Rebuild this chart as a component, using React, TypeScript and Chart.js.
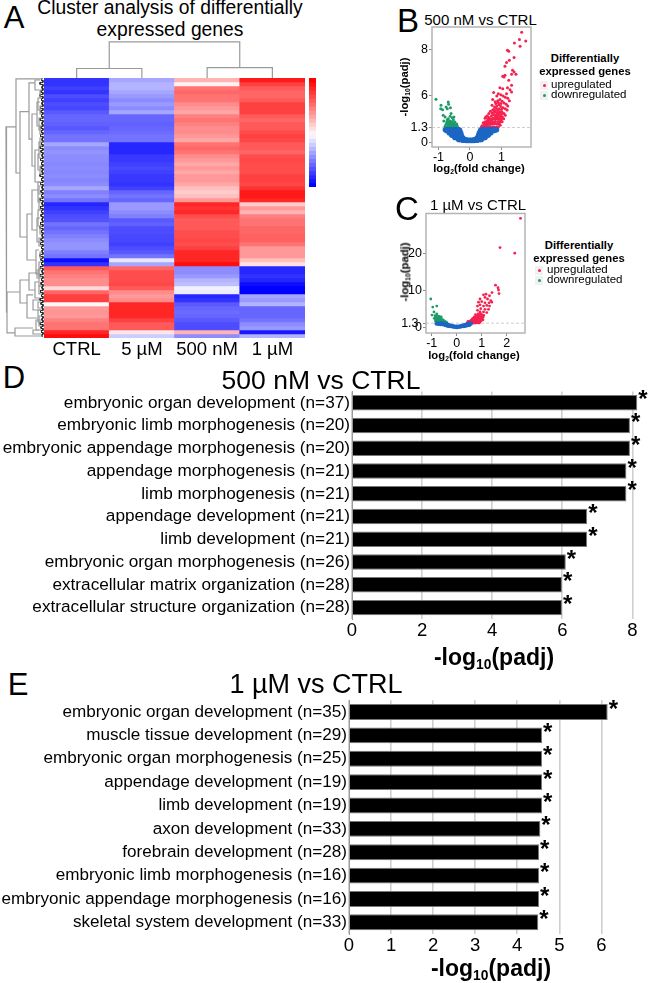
import React, { useEffect, useRef } from "react";
import { Chart, registerables } from "chart.js";

Chart.register(...registerables);
const FONT = '"Liberation Sans", Arial, sans-serif';
Chart.defaults.font.family = FONT;
Chart.defaults.color = "#000";

/* ---------- Panel A: heat map ---------- */
const heatColumns = ["CTRL", "5 µM", "500 nM", "1 µM"];
const heatCtrl = [-.8,-.8,-.75,-.8,-.7,-.75,-.7,-.72,-.65,-.6,-.6,-.62,-.66,-.6,-.55,-.55,-.35,-.45,-.42,-.45,-.45,-.47,-.45,-.47,-.45,-.48,-.45,-.35,-.5,-.45,-.55,-.85,-.8,-.75,-.7,-.68,-.55,-.6,-.55,-.5,-.45,-.42,-.42,-.5,-.55,-.95,-.8,.65,.55,.5,.45,.45,.15,.6,.75,.75,.03,.4,.42,.4,.5,.55,.55,.85,.95];
const heat5uM = [-.35,-.3,-.3,-.35,-.4,-.45,-.4,-.45,-.35,-.6,-.6,-.62,-.6,-.58,-.55,-.55,-.85,-.85,-.85,-.78,-.78,-.75,-.72,-.75,-.78,-.78,-.8,-.75,-.6,-.55,-.6,-.4,-.4,-.45,-.5,-.65,-.62,-.7,-.7,-.72,-.72,-.75,-.7,-.65,-.55,-.1,-.35,.6,.7,.7,.7,.72,.65,.45,.4,.45,.85,.85,.85,.85,.75,.65,.65,.1,-.2];
const heat500nM = [.3,.05,.55,.6,.55,.55,.45,.4,.35,.5,.55,.5,.45,.45,.4,.35,.55,.6,.55,.45,.4,.35,.4,.35,.4,.4,.35,.25,.2,.25,.4,.85,.8,.85,.7,.65,.65,.65,.7,.7,.72,.7,.75,.85,.85,.85,.95,-.45,-.45,-.4,-.3,-.25,-.05,-.08,-.85,-.8,-.65,-.6,-.58,-.6,-.65,-.7,-.7,.3,-.45];
const heat1uM = [.9,.75,.65,.6,.6,.65,.75,.75,.75,.65,.6,.65,.65,.7,.75,.72,.65,.65,.6,.7,.72,.7,.7,.7,.75,.75,.72,.8,.9,.9,.85,.2,.4,.3,.5,.55,.55,.6,.6,.62,.62,.55,.4,.4,.4,.25,.12,-.85,-.85,-.8,-.85,-.95,-1,-1,-.35,-.4,-.3,-.6,-.6,-.6,-.55,-.45,-.4,-.9,-.3];
const colorbarLevels = [1,.93,.86,.79,.72,.65,.58,.5,.43,.36,.28,.2,.12,.05,-.05,-.12,-.2,-.28,-.36,-.44,-.52,-.6,-.68,-.76,-.84,-.92,-1];
const leafHeights = [1.5,3,1,2,3,1.5,1,2.5,2,1.5,3,1,2,1.5,2.5,1,1.5,3,2,1,2.5,1.5,2,1,3,1.5,2.5,1,2,1.5,3,1,2.5,1.5,2,1,2.5,3,1.5,1,2,2.5,1.5,1,3,2,1.5,2.5,1,3,1.5,2,1,2.5,1.5,3,2,1,2.5,1.5,1,3,2,1.5,1];
// merge: height, first row, second row, height of first child, height of second child
const rowMerges = [
  [37,12.2,58.7,27,36],[36,53.5,63.7,23,28],[27,.2,23.75,0,23],[23,8.4,39.75,14,16],[14,1.2,15.3,8,11],
  [8,.5,3,3,4],[11,9,22,6,8],[6,6,12,3,2],[8,18,26,4,3],[4,16,20,0,2],[16,34,45.5,11,7],[11,28,38,5,6],
  [7,43,49,4,3],[5,26,31,2,2],[6,35,41,3,2],[4,46,52,2,1],[23,50.5,56.25,14,16],[14,48.75,53,5,8],
  [16,54.2,60,10,6],[8,51,55,4,3],[28,62.5,64.5,10,0],[10,63,64,4,2],[6,48,50,2,1],[10,55.5,58,4,3],
  [5,58,61,2,2],[3,3,5,1,1],[3,12,14,1,1],[3,22,24,1,1],[3,37,39,1,1],
  [5,5,8,2,2],[4,10,13,1,2],[5,19,23,2,1],[4,27,29,1,1],[4,30,33,1,2],[5,33,37,1,2],[4,40,42,1,1],
  [4,47.5,49.5,1,1],[4,52,54,1,1],[5,56,57.5,2,1],[4,59.5,62,1,1],[7,60.5,63,2,2],[3,7,9,1,1],[3,15,17,1,1],[3,43.5,45,1,1],
];
// merge: height, first column, second column, height of first child, height of second child
const columnMerges = [[10,0,1,0,0],[11,2,3,0,0],[38,.5,2.5,10,11]];

/* ---------- Panels B, C: volcano plots ---------- */
const bUp = [[1.64,9.46],[1.41,8.54],[1.57,8.83],[1.77,8.71],[1.59,8.26],[1.19,7.91],[1.23,7.83],[1.4,7.29],[1.25,7.06],[1.16,6.86],[1.11,6.54],[1.35,6.2],[1.4,6.06],[1.46,5.86],[1.32,5.86],[1.11,5.77],[1.04,5.69],[1.08,5.63],[1.23,5.34],[.95,4.71],[1.04,4.63],[1.19,4.71],[1.32,4.91],[1.27,4.54],[1.32,4.34],[1.16,4.2],[.75,4.29],[.85,4],[.9,4.2],[.98,4.1],[1.05,4],[1.12,3.9],[1.2,3.8],[1.25,3.6],[.72,3.7],[.8,3.5],[.88,3.6],[.95,3.7],[1.02,3.55],[1.08,3.4],[1.15,3.3],[1.2,3.15],[.7,3.2],[.78,3.05],[.85,3.15],[.92,3.25],[.98,3.1],[1.05,3],[1.12,2.9],[1.18,2.8],[.5,2.2],[.48,2.1],[.55,2.3],[.6,2.5],[.65,2.7],[.72,2.8],[.8,2.7],[.88,2.75],[.95,2.65],[1.02,2.6],[1.08,2.5],[1.12,2.35],[.6,2.15],[.68,2.3],[.75,2.4],[.82,2.35],[.9,2.4],[.97,2.3],[1.03,2.2],[1.07,2.05],[.42,1.7],[.48,1.8],[.55,1.85],[.62,1.9],[.7,1.95],[.78,2],[.85,2.05],[.92,2],[.98,1.9],[1.02,1.8],[.38,1.45],[.44,1.45],[.5,1.5],[.56,1.55],[.62,1.55],[.68,1.6],[.74,1.6],[.8,1.65],[.86,1.6],[.92,1.6],[.96,1.5],[.36,1.33],[.42,1.33],[.48,1.35],[.54,1.35],[.6,1.35],[.66,1.35],[.72,1.35],[.78,1.35],[.84,1.35],[.9,1.35],[.46,1.58],[.52,1.68],[.58,1.72],[.65,1.75],[.72,1.78],[.8,1.82],[.88,1.82],[.95,1.75],[.57,2.02],[.64,2.05],[.72,2.12],[.8,2.18],[.87,2.2],[.94,2.17],[1,2.05],[.7,2.55],[.77,2.6],[.85,2.55],[.92,2.52],[1,2.45],[.76,2.85],[.84,2.92],[.92,2.9],[1,2.85],[.82,3.35],[.9,3.45],[.98,3.35]];
const bDown = [[-1.08,3.71],[-.92,3.2],[-.87,2.83],[-.93,2.91],[-.76,3.06],[-.69,3.49],[-.68,3.29],[-.62,3],[-.72,2.91],[-.6,2.49],[-.85,2.34],[-.79,2.2],[-.63,2.26],[-.56,2.14],[-.69,2.06],[-.53,1.97],[-.83,1.86],[-.74,1.77],[-.63,1.86],[-.48,1.77],[-.76,1.57],[-.66,1.63],[-.57,1.57],[-.44,1.49],[-.69,1.43],[-.53,1.4],[-.4,1.4],[-.58,1.77],[-.79,1.4],[-.72,1.97],[-.51,2.2],[-.6,1.35],[-.5,1.5],[-.65,1.4],[-.7,1.6],[-.75,1.33],[-.46,1.33],[-.55,1.33],[-.62,1.7],[-.68,1.8],[-.5,1.7],[-.42,1.6],[-.7,1.33],[-.65,1.55],[-.6,1.5],[-.55,1.5],[-.47,1.42]];
const bFlat = [[-.78,1.1],[-.72,1.1],[-.66,1.1],[-.6,1.1],[-.54,1.1],[-.48,1.1],[-.42,1.1],[-.36,1.1],[-.74,1.05],[-.68,1.05],[-.62,1.05],[-.56,1.05],[-.5,1.05],[-.44,1.05],[-.38,1.05],[-.33,1.05],[-.66,.85],[-.6,.85],[-.54,.85],[-.48,.85],[-.42,.85],[-.36,.85],[-.3,.85],[-.58,.65],[-.52,.65],[-.46,.65],[-.4,.65],[-.34,.65],[-.28,.65],[-.48,.45],[-.42,.45],[-.36,.45],[-.3,.45],[-.24,.45],[-.36,.28],[-.3,.28],[-.24,.28],[-.18,.28],[-.24,.22],[-.18,.22],[-.12,.22],[-.12,.2],[-.06,.2],[0,.2],[.06,.2],[.12,.2],[.38,1.1],[.44,1.1],[.5,1.1],[.56,1.1],[.62,1.1],[.68,1.1],[.74,1.1],[.8,1.1],[.84,1.1],[.34,1.05],[.4,1.05],[.46,1.05],[.52,1.05],[.58,1.05],[.64,1.05],[.7,1.05],[.76,1.05],[.3,.85],[.36,.85],[.42,.85],[.48,.85],[.54,.85],[.6,.85],[.66,.85],[.28,.65],[.34,.65],[.4,.65],[.46,.65],[.52,.65],[.58,.65],[.24,.45],[.3,.45],[.36,.45],[.42,.45],[.48,.45],[.18,.28],[.24,.28],[.3,.28],[.36,.28],[.12,.22],[.18,.22],[.24,.22]];
const bTicksX = [-1, 0, 1];
const bTicksY = [0, 1.3, 4, 8];
const bTickLabelsY = ["0", "1.3", "6", "8"];

const cUp = [[2.55,29.6],[1.73,21.7],[2.32,20.2],[1.55,11.57],[1.65,10.87],[1.67,10.26],[1.69,9.3],[1.41,9.57],[1.07,8.96],[1.17,9.13],[1.31,8.7],[.93,7.83],[1.13,8.26],[1.23,7.83],[1.36,7.39],[.87,6.96],[1,7.13],[1.13,6.78],[1.29,6.78],[1.4,6.96],[.93,6.26],[.83,5.91],[1.07,5.91],[1.2,6.09],[1.31,5.91],[1.13,5.04],[.96,5.22],[1.27,5.04],[.83,4.78],[1.07,4.35],[.93,4.35],[1.2,4.17],[.95,3.9],[.85,3.8],[.75,3.6],[.9,3.4],[1,3.6],[1.08,3.4],[.8,3.2],[.7,3],[.88,3],[.98,3.1],[1.05,2.9],[.65,2.6],[.75,2.7],[.82,2.6],[.92,2.6],[1,2.5],[.6,2.2],[.7,2.3],[.78,2.2],[.86,2.2],[.95,2.1],[.55,1.9],[.63,1.9],[.72,1.85],[.8,1.8],[.9,1.75],[.48,1.6],[.56,1.6],[.65,1.55],[.74,1.5],[.82,1.5],[.42,1.4],[.5,1.35],[.58,1.35],[.66,1.35],[.74,1.35],[.85,2.9],[.45,1.75],[.52,1.8],[.6,1.75],[.68,1.7],[.76,1.7],[.85,1.65],[.92,1.5],[.58,2.05],[.66,2.1],[.74,2.05],[.82,2],[.9,2],[.98,1.95],[1.05,2.2],[.7,2.7],[.78,2.9],[.9,2.85],[.96,2.35],[1.02,2.75],[.68,2.5],[.62,2.4],[.8,1.4],[.88,1.35],[.52,1.55],[.6,1.45],[.7,1.42]];
const cDown = [[-1.04,7.83],[-.8,5.91],[-.96,5.65],[-.91,4.35],[-.99,3.48],[-.87,3.3],[-.8,3.83],[-.85,2.9],[-.8,2.6],[-.75,2.9],[-.7,2.5],[-.65,2.7],[-.6,2.3],[-.55,2.2],[-.5,1.9],[-.45,1.7],[-.4,1.5],[-.85,2.2],[-.8,2],[-.75,2],[-.7,1.8],[-.65,1.9],[-.6,1.7],[-.55,1.6],[-.5,1.45],[-.78,1.6],[-.72,1.45],[-.66,1.4],[-.6,1.35],[-.54,1.33],[-.48,1.33],[-.42,1.33],[-.9,2.6],[-.78,3.3],[-.7,3.1],[-.62,3],[-.82,2.35],[-.74,2.25],[-.68,2.15],[-.62,2],[-.57,1.9],[-.52,1.65],[-.46,1.5],[-.76,1.75],[-.7,1.6],[-.64,1.55],[-.58,1.5],[-.85,1.9]];
const cFlat = [[-.8,1.2],[-.72,1.15],[-.64,1.1],[-.56,1.05],[-.48,1],[-.4,.9],[-.32,.75],[-.24,.6],[-.16,.45],[-.08,.35],[0,.3],[.08,.35],[.16,.45],[.24,.6],[.32,.75],[.4,.9],[.48,1.05],[.56,1.2],[-.6,1.2],[-.5,1.1],[-.44,.8],[-.36,.65],[-.28,.55],[.28,.55],[.36,.7],[.44,.85],[.5,.9]];
const cTicksX = [-1, 0, 1, 2];
const cTicksY = [0, 1.3, 10, 20];
const cTickLabelsY = ["0", "1.3 ", "10", "20"];

/* ---------- Panels D, E: enrichment bars ---------- */
const dTerms = ["embryonic organ development (n=37)","embryonic limb morphogenesis (n=20)","embryonic appendage morphogenesis (n=20)","appendage morphogenesis (n=21)","limb morphogenesis (n=21)","appendage development (n=21)","limb development (n=21)","embryonic organ morphogenesis (n=26)","extracellular matrix organization (n=28)","extracellular structure organization (n=28)"];
const dValues = [8.14,7.93,7.93,7.83,7.83,6.71,6.71,6.1,5.99,5.99];
const eTerms = ["embryonic organ development (n=35)","muscle tissue development (n=29)","embryonic organ morphogenesis (n=25)","appendage development (n=19)","limb development (n=19)","axon development (n=33)","forebrain development (n=28)","embryonic limb morphogenesis (n=16)","embryonic appendage morphogenesis (n=16)","skeletal system development (n=33)"];
const eValues = [6.15,4.59,4.59,4.59,4.59,4.55,4.52,4.52,4.52,4.5];

/* ---------- helpers ---------- */
const heatColor = (v: number) => {
  const k = Math.round(255 * (1 - Math.abs(v)));
  return v >= 0 ? `rgb(255,${k},${k})` : `rgb(${k},${k},255)`;
};
const hiddenScale = (extra: any = {}) => ({ display: false, ...extra });
const mergePath = (m: number[], flip: boolean) => {
  const [h, a, b, ha, hb] = m;
  const p = [[ha, a], [h, a], [h, b], [hb, b]];
  return p.map(([hh, pos]) => (flip ? { x: pos, y: hh } : { x: hh, y: pos }));
};

function ChartBox({ left, top, width, height, config }: any) {
  const ref = useRef<HTMLCanvasElement>(null);
  useEffect(() => {
    const chart = new Chart(ref.current as HTMLCanvasElement, config());
    return () => chart.destroy();
  }, []);
  return <canvas ref={ref} width={width} height={height} style={{ position: "absolute", left, top, width, height }} />;
}

const baseOptions = {
  responsive: false,
  animation: false as const,
  events: [] as any[],
  plugins: { legend: { display: false }, tooltip: { enabled: false } },
};

const heatConfig = () => ({
  type: "bar",
  data: {
    labels: heatColumns,
    datasets: heatCtrl.map((_, i) => ({
      data: heatColumns.map(() => 1),
      backgroundColor: [heatCtrl[i], heat5uM[i], heat500nM[i], heat1uM[i]].map(heatColor),
      borderWidth: 0,
      barPercentage: 1,
      categoryPercentage: 1,
    })),
  },
  options: {
    ...baseOptions,
    scales: {
      x: {
        stacked: true,
        grid: { display: false, drawTicks: false },
        border: { display: false },
        ticks: { font: { size: 18.5 }, padding: 1, maxRotation: 0 },
        afterFit: (s: any) => { s.height = 27; },
      },
      y: hiddenScale({ stacked: true, reverse: true, min: 0, max: heatCtrl.length }),
    },
  },
});

const colorbarConfig = () => ({
  type: "bar",
  data: {
    labels: ["scale"],
    datasets: colorbarLevels.map((v) => ({
      data: [1],
      backgroundColor: heatColor(v),
      borderWidth: 0,
      barPercentage: 1,
      categoryPercentage: 1,
    })),
  },
  options: {
    ...baseOptions,
    scales: {
      x: hiddenScale({ stacked: true }),
      y: hiddenScale({ stacked: true, reverse: true, min: 0, max: colorbarLevels.length }),
    },
  },
});

const treeDataset = (data: any[], color = "#9a9a9a", width = 1.2) => ({
  data, showLine: true, pointRadius: 0, borderColor: color, borderWidth: width, clip: false, tension: 0,
});

const rowTreeConfig = () => {
  const comb: any[] = [];
  leafHeights.forEach((h, i) => {
    comb.push({ x: 0, y: i + 0.1 }, { x: h, y: i + 0.1 }, { x: h, y: i + 0.6 }, { x: 0, y: i + 0.6 });
  });
  return {
    type: "scatter",
    data: { datasets: [...rowMerges.map((m) => treeDataset(mergePath(m, false))), treeDataset(comb, "#222", 1)] },
    options: {
      ...baseOptions,
      scales: {
        x: hiddenScale({ reverse: true, min: -1, max: 43 }),
        y: hiddenScale({ reverse: true, min: 0, max: heatCtrl.length }),
      },
    },
  };
};

const columnTreeConfig = () => ({
  type: "scatter",
  data: { datasets: columnMerges.map((m) => treeDataset(mergePath(m, true))) },
  options: {
    ...baseOptions,
    scales: { x: hiddenScale({ min: -0.5, max: 3.5 }), y: hiddenScale({ min: 0, max: 40 }) },
  },
});

const framePlugin = {
  id: "frame",
  afterDraw(chart: any) {
    const { ctx, chartArea: a } = chart;
    ctx.save();
    ctx.strokeStyle = "#b4b4b4";
    ctx.lineWidth = 1.5;
    ctx.strokeRect(a.left, a.top, a.right - a.left, a.bottom - a.top);
    ctx.restore();
  },
};

const toPts = (arr: number[][]) => arr.map(([x, y]) => ({ x, y }));
const tickGrid = { drawOnChartArea: false, drawTicks: true, tickLength: 3, color: "#8a8a8a" };

const volcanoConfig = (p: any) => () => ({
  type: "scatter",
  data: {
    datasets: [
      { label: "not significant", data: toPts(p.flat), backgroundColor: "#1c66c4", pointRadius: p.flatR, pointBorderWidth: 0 },
      { label: "downregulated", data: toPts(p.down), backgroundColor: "#1e9c68", pointRadius: p.r, pointBorderWidth: 0 },
      { label: "upregulated", data: toPts(p.up), backgroundColor: "#f5214f", pointRadius: p.r, pointBorderWidth: 0 },
      { label: "threshold", data: [{ x: p.xMin, y: 1.3 }, { x: p.xMax, y: 1.3 }], showLine: true, pointRadius: 0, borderColor: "#cfcfcf", borderWidth: 1, borderDash: [3, 2] },
    ],
  },
  options: {
    ...baseOptions,
    layout: { padding: p.padding },
    scales: {
      x: {
        min: p.xMin, max: p.xMax,
        grid: tickGrid,
        border: { display: false },
        afterBuildTicks: (s: any) => { s.ticks = p.ticksX.map((value: number) => ({ value })); },
        ticks: { font: { size: 12.5 }, padding: 0, maxRotation: 0, autoSkip: false, callback: (v: number) => String(v) },
        afterFit: (s: any) => { s.height = 16; },
      },
      y: {
        min: p.yMin, max: p.yMax,
        grid: tickGrid,
        border: { display: false },
        afterBuildTicks: (s: any) => { s.ticks = p.ticksY.map((value: number) => ({ value })); },
        ticks: {
          font: { size: 12.5 }, padding: 1, autoSkip: false,
          callback: (v: number) => p.labelsY[p.ticksY.indexOf(v)],
        },
        afterFit: (s: any) => { s.width = p.axisWidth; },
      },
    },
  },
  plugins: [framePlugin],
});

const starPlugin = (lift: number) => ({
  id: "stars",
  afterDatasetsDraw(chart: any) {
    const { ctx } = chart;
    ctx.save();
    ctx.font = `bold 24px ${FONT}`;
    ctx.fillStyle = "#000";
    ctx.textAlign = "left";
    ctx.textBaseline = "middle";
    chart.getDatasetMeta(0).data.forEach((bar: any) => {
      ctx.fillText("*", bar.x + 1, bar.y + lift);
    });
    ctx.restore();
  },
});

const barConfig = (p: any) => () => ({
  type: "bar",
  data: {
    labels: p.terms,
    datasets: [{
      data: p.values,
      backgroundColor: "#000",
      borderColor: "#777",
      borderWidth: 1,
      barPercentage: 0.68,
      categoryPercentage: 1,
    }],
  },
  options: {
    ...baseOptions,
    indexAxis: "y",
    layout: { padding: { top: p.padTop, right: p.padRight, left: 0, bottom: 0 } },
    scales: {
      x: {
        min: 0, max: p.max,
        grid: { color: "#cfcfcf", lineWidth: 1.6, drawTicks: false },
        border: { display: false },
        ticks: { stepSize: p.step, includeBounds: false, font: { size: 18.5 }, padding: 1, maxRotation: 0 },
        afterFit: (s: any) => { s.height = 30; },
      },
      y: {
        grid: { display: false, drawTicks: false },
        border: { color: "#999", width: 1 },
        ticks: { font: { size: p.font }, padding: 2, autoSkip: false },
        afterFit: (s: any) => { s.width = p.axisWidth; },
      },
    },
  },
  plugins: [starPlugin(p.lift)],
});

function T({ x, y, size, bold, rotate, children, align }: any) {
  const shift = align === "left" ? "translate(0,-50%)" : "translate(-50%,-50%)";
  return (
    <div style={{
      position: "absolute", left: x, top: y, transform: shift + (rotate ? ` rotate(${rotate}deg)` : ""),
      fontFamily: FONT, fontSize: size, fontWeight: bold ? 700 : 400, lineHeight: 1, whiteSpace: "nowrap", color: "#000",
    }}>{children}</div>
  );
}
const Sub = ({ children }: any) => (
  <sub style={{ fontSize: "0.6em", lineHeight: 0, verticalAlign: "-0.3em" }}>{children}</sub>
);

function LegendBlock({ cx, y1, y2, keyX, textX, y3, y4 }: any) {
  const key = (y: number, color: string) => (
    <div style={{ position: "absolute", left: keyX, top: y - 4.5, width: 8, height: 9, background: "#f1f1f1" }}>
      <div style={{ position: "absolute", left: 2.5, top: 3, width: 3, height: 3, borderRadius: 2, background: color }} />
    </div>
  );
  return (
    <>
      <T x={cx} y={y1} size={11.3} bold>Differentially</T>
      <T x={cx} y={y2} size={11.3} bold>expressed genes</T>
      {key(y3, "#f5214f")}
      {key(y4, "#1e9c68")}
      <T x={textX} y={y3} size={11.5} align="left">upregulated</T>
      <T x={textX} y={y4} size={11.5} align="left">downregulated</T>
    </>
  );
}

const bVolcano = volcanoConfig({
  up: bUp, down: bDown, flat: bFlat, r: 1.5, flatR: 2.8, xMin: -1.206, xMax: 1.937, yMin: -0.37, yMax: 9.91,
  ticksX: bTicksX, ticksY: bTicksY, labelsY: bTickLabelsY, axisWidth: 27, padding: { top: 9, right: 9, left: 0, bottom: 0 },
});
const cVolcano = volcanoConfig({
  up: cUp, down: cDown, flat: cFlat, r: 1.4, flatR: 2.3, xMin: -1.23, xMax: 2.73, yMin: -1.35, yMax: 30.9,
  ticksX: cTicksX, ticksY: cTicksY, labelsY: cTickLabelsY, axisWidth: 41, padding: { top: 8.3, right: 9, left: 0, bottom: 0 },
});
const dBars = barConfig({ terms: dTerms, values: dValues, max: 8.4, step: 2, font: 17.2, axisWidth: 352, padTop: 12.4, padRight: 1.6, lift: -2 });
const eBars = barConfig({ terms: eTerms, values: eValues, max: 6.99, step: 1, font: 17.1, axisWidth: 349, padTop: 12.3, padRight: 5, lift: -2 });

export default function App() {
  return (
    <div style={{ position: "fixed", left: 0, top: 0, width: 648, height: 983, background: "#fff", overflow: "hidden" }}>
      {/* Panel A */}
      <T x={14} y={17} size={31}>A</T>
      <T x={170} y={8} size={19.3}>Cluster analysis of differentially</T>
      <T x={170} y={30} size={19.3}>expressed genes</T>
      <ChartBox left={44} top={40} width={261} height={38} config={columnTreeConfig} />
      <ChartBox left={0} top={78} width={44} height={260} config={rowTreeConfig} />
      <ChartBox left={44} top={78} width={261} height={287} config={heatConfig} />
      <ChartBox left={309} top={78} width={7} height={109} config={colorbarConfig} />

      {/* Panel B */}
      <T x={408} y={20} size={33}>B</T>
      <T x={480.5} y={19} size={15}>500 nM vs CTRL</T>
      <ChartBox left={405} top={18} width={135} height={145} config={bVolcano} />
      <T x={479} y={169} size={11.3} bold>log<Sub>2</Sub>(fold change)</T>
      <T x={405} y={87} size={11.3} bold rotate={-90}>-log<Sub>10</Sub>(padj)</T>
      <LegendBlock cx={585} y1={59} y2={72} keyX={540} textX={551} y3={85} y4={95} />

      {/* Panel C */}
      <T x={407} y={208} size={33}>C</T>
      <T x={478} y={204} size={15}>1 µM vs CTRL</T>
      <ChartBox left={385} top={205} width={149} height={144} config={cVolcano} />
      <T x={474} y={356} size={11.3} bold>log<Sub>2</Sub>(fold change)</T>
      <T x={405} y={272} size={11.3} bold rotate={-90}>-log<Sub>10</Sub>(padj)</T>
      <LegendBlock cx={579} y1={246} y2={259} keyX={535} textX={547} y3={270} y4={280} />

      {/* Panel D */}
      <T x={14} y={377} size={31}>D</T>
      <T x={321} y={380} size={26.5}>500 nM vs CTRL</T>
      <ChartBox left={0} top={379} width={648} height={270} config={dBars} />
      <T x={494} y={657} size={23} bold>-log<Sub>10</Sub>(padj)</T>

      {/* Panel E */}
      <T x={18} y={684} size={31}>E</T>
      <T x={316} y={684} size={27}>1 µM vs CTRL</T>
      <ChartBox left={0} top={688} width={648} height={276} config={eBars} />
      <T x={491} y={968} size={23} bold>-log<Sub>10</Sub>(padj)</T>
    </div>
  );
}
